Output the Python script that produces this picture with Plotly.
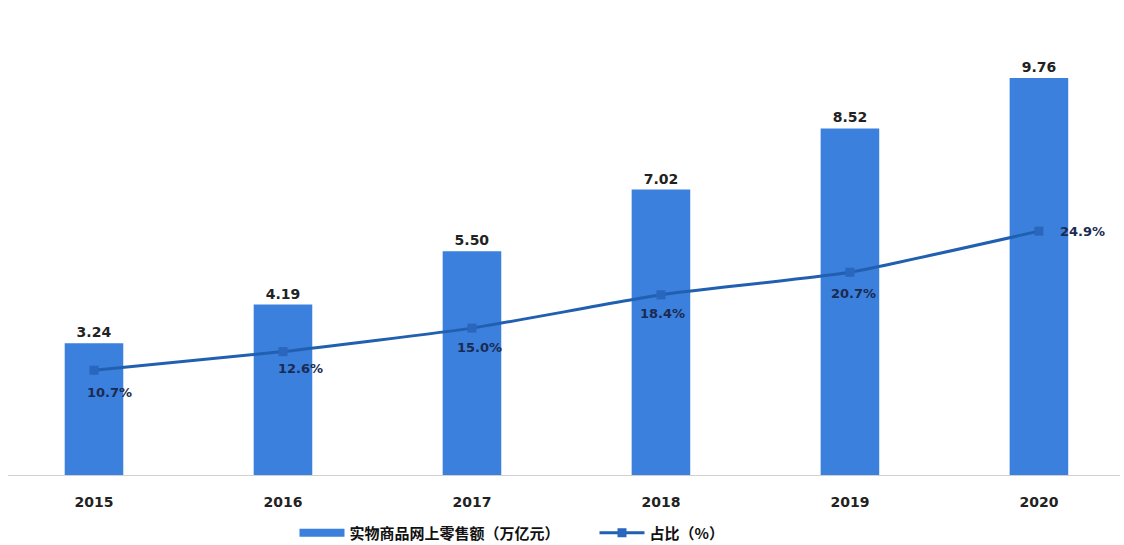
import plotly.graph_objects as go

years = ["2015", "2016", "2017", "2018", "2019", "2020"]
sales = [3.24, 4.19, 5.50, 7.02, 8.52, 9.76]
share = [10.7, 12.6, 15.0, 18.4, 20.7, 24.9]
share_labels = ["10.7%", "12.6%", "15.0%", "18.4%", "20.7%", "24.9%"]
bar_name = "实物商品网上零售额（万亿元）"
line_name = "占比（%）"

xs = list(range(len(years)))
bar_color = "#3a80dc"
num_font = "DejaVu Sans, Arial"

fig = go.Figure()
fig.add_trace(go.Bar(
    x=xs, y=sales, name=bar_name, width=0.31, showlegend=False,
    marker=dict(color=bar_color, line=dict(width=0)),
    text=[f"<b>{v:.2f}</b>" for v in sales], textposition="outside",
    textfont=dict(family=num_font, size=14, color="#222222"),
    cliponaxis=False,
))
# legend glyph for the bar series (wide rectangle)
fig.add_trace(go.Scatter(
    x=[None], y=[None], name=bar_name, mode="lines",
    line=dict(color=bar_color, width=8),
))
fig.add_trace(go.Scatter(
    x=xs, y=share, name=line_name, yaxis="y2", mode="lines+markers",
    line=dict(color="#2160b0", width=3, shape="spline", smoothing=0.4),
    marker=dict(symbol="square", size=9, color="#2a66bd"),
))

offsets = [(16, -22), (18, -17), (8, -19), (2, -19), (4, -21), (44, 0)]
for x, y, lab, (dx, dy) in zip(xs, share, share_labels, offsets):
    fig.add_annotation(x=x, y=y, yref="y2", text=f"<b>{lab}</b>", showarrow=False,
                       xshift=dx, yshift=dy,
                       font=dict(family=num_font, size=13, color="#1b2a52"))

fig.update_layout(
    width=1124, height=545,
    margin=dict(l=8, r=4, t=50, b=70, autoexpand=False),
    paper_bgcolor="white", plot_bgcolor="white",
    showlegend=True,
    legend=dict(orientation="h", xref="container", yref="container",
                x=0.262, xanchor="left", y=0.022, yanchor="middle",
                font=dict(family="Noto Sans CJK SC", size=15, color="#111111", weight="bold"),
                itemwidth=45, tracegroupgap=0, entrywidth=240, entrywidthmode="pixels"),
    xaxis=dict(range=[-0.455, 5.429], tickmode="array", tickvals=xs, ticktext=[f"<b>{y}</b>" for y in years],
               showline=True, linecolor="#d0d0d0", linewidth=1, showgrid=False, zeroline=False,
               ticks="", ticklabelstandoff=14, automargin=False,
               tickfont=dict(family=num_font, size=14, color="#222222")),
    yaxis=dict(range=[0, 10.45], visible=False, showgrid=False, zeroline=False),
    yaxis2=dict(range=[0, 43.4], overlaying="y", side="right", visible=False, showgrid=False, zeroline=False),
)

fig.write_html("out.html")
